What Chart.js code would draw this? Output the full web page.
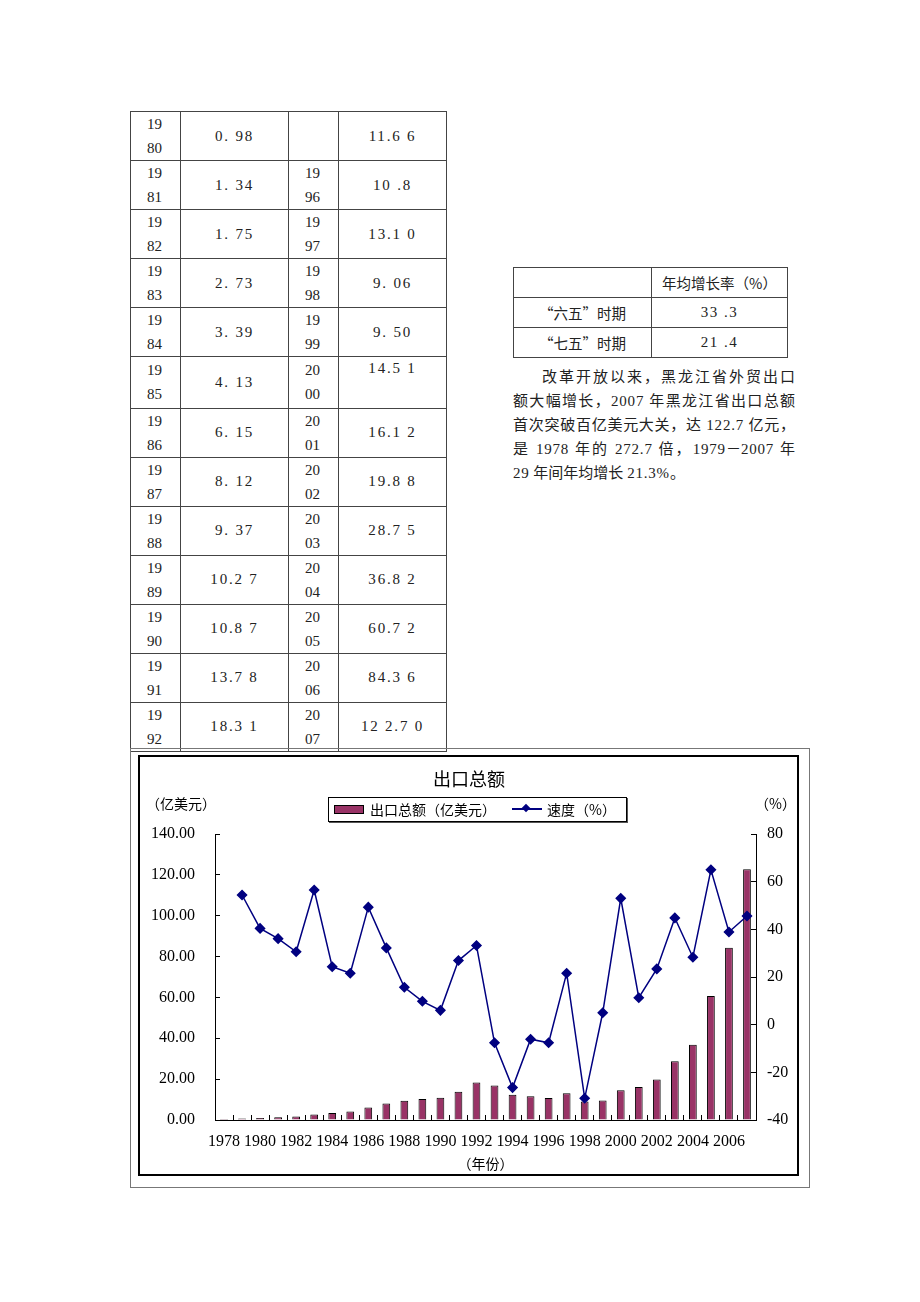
<!DOCTYPE html>
<html>
<head>
<meta charset="utf-8">
<script src="https://cdn.jsdelivr.net/npm/chart.js@4"></script>
<style>
  body { margin: 0; background: #fff; }
  #page { position: relative; width: 920px; height: 1302px; font-family: "Liberation Serif", "Noto Sans CJK SC", serif; color: #222; }
  .abs { position: absolute; }
  table.data { position: absolute; left: 130px; top: 111px; border-collapse: collapse; table-layout: fixed; font-size: 15px; }
  table.data td { border: 1px solid #444; height: 47.9px; padding: 0; vertical-align: middle; }
  table.data td.yr { padding-left: 16px; line-height: 24px; }
  table.data td.val { text-align: center; letter-spacing: 1.8px; }
  table.data td.top { vertical-align: top; padding-top: 3px; }
  table.rate { position: absolute; left: 513px; top: 267px; border-collapse: collapse; table-layout: fixed; font-size: 15px; }
  table.rate td { border: 1px solid #444; height: 29px; padding: 0; text-align: center; }
  table.rate td.q { font-family: "Noto Sans CJK SC", sans-serif; font-size: 14.5px; }
  table.rate td.n { letter-spacing: 1.5px; }
  #para { left: 513px; top: 365px; width: 282px; font-size: 15px; line-height: 24px; }
  #para div { text-align: justify; text-align-last: justify; white-space: nowrap; }
  #para div.last { text-align-last: left; }
  #para span.d { letter-spacing: 0.8px; }
  #outer { left: 130px; top: 748px; width: 678px; height: 438px; border: 1px solid #777; }
  #inner { left: 138px; top: 755px; width: 657px; height: 417px; border: 2px solid #000; }
  #chartBox { left: 140px; top: 757px; width: 658px; height: 418px; }
  .cn { font-family: "Noto Sans CJK SC", sans-serif; color: #000; }
  #legend { left: 328px; top: 797px; width: 297px; height: 23px; border: 1px solid #000; box-shadow: 1px 1px 0 #555; background: #fff; }
</style>
</head>
<body>
<div id="page">
  <table class="data">
    <colgroup><col style="width:50px"><col style="width:108px"><col style="width:50px"><col style="width:108px"></colgroup>
    <tr><td class="yr">19<br>80</td><td class="val">0. 98</td><td></td><td class="val">11.6 6</td></tr>
    <tr><td class="yr">19<br>81</td><td class="val">1. 34</td><td class="yr">19<br>96</td><td class="val">10 .8</td></tr>
    <tr><td class="yr">19<br>82</td><td class="val">1. 75</td><td class="yr">19<br>97</td><td class="val">13.1 0</td></tr>
    <tr><td class="yr">19<br>83</td><td class="val">2. 73</td><td class="yr">19<br>98</td><td class="val">9. 06</td></tr>
    <tr><td class="yr">19<br>84</td><td class="val">3. 39</td><td class="yr">19<br>99</td><td class="val">9. 50</td></tr>
    <tr><td class="yr">19<br>85</td><td class="val">4. 13</td><td class="yr">20<br>00</td><td class="val top">14.5 1</td></tr>
    <tr><td class="yr">19<br>86</td><td class="val">6. 15</td><td class="yr">20<br>01</td><td class="val">16.1 2</td></tr>
    <tr><td class="yr">19<br>87</td><td class="val">8. 12</td><td class="yr">20<br>02</td><td class="val">19.8 8</td></tr>
    <tr><td class="yr">19<br>88</td><td class="val">9. 37</td><td class="yr">20<br>03</td><td class="val">28.7 5</td></tr>
    <tr><td class="yr">19<br>89</td><td class="val">10.2 7</td><td class="yr">20<br>04</td><td class="val">36.8 2</td></tr>
    <tr><td class="yr">19<br>90</td><td class="val">10.8 7</td><td class="yr">20<br>05</td><td class="val">60.7 2</td></tr>
    <tr><td class="yr">19<br>91</td><td class="val">13.7 8</td><td class="yr">20<br>06</td><td class="val">84.3 6</td></tr>
    <tr><td class="yr">19<br>92</td><td class="val">18.3 1</td><td class="yr">20<br>07</td><td class="val">12 2.7 0</td></tr>
  </table>

  <table class="rate">
    <colgroup><col style="width:138px"><col style="width:136px"></colgroup>
    <tr><td></td><td class="q">年均增长率（%）</td></tr>
    <tr><td class="q">“六五”时期</td><td class="n">33 .3</td></tr>
    <tr><td class="q">“七五”时期</td><td class="n">21 .4</td></tr>
  </table>

  <div id="para" class="abs">
    <div style="padding-left:29px">改革开放以来，黑龙江省外贸出口</div>
    <div>额大幅增长，<span class="d">2007</span> 年黑龙江省出口总额</div>
    <div>首次突破百亿美元大关，达 <span class="d">122.7</span> 亿元，</div>
    <div>是 <span class="d">1978</span> 年的 <span class="d">272.7</span> 倍，<span class="d">1979</span>－<span class="d">2007</span> 年</div>
    <div class="last"><span class="d">29</span> 年间年均增长 <span class="d">21.3%</span>。</div>
  </div>

  <div id="outer" class="abs"></div>
  <div id="inner" class="abs"></div>
  <div id="chartBox" class="abs"><canvas id="exportChart"></canvas></div>

  <div class="abs cn" style="left:369px;top:766px;width:200px;text-align:center;font-size:18px;line-height:24px">出口总额</div>
  <div class="abs cn" style="left:146px;top:794px;font-size:14px;line-height:18px">（亿美元）</div>
  <div class="abs cn" style="left:755px;top:794px;font-size:14px;line-height:18px">（%）</div>
  <div id="legend" class="abs cn" style="font-size:14px">
    <div class="abs" style="left:5px;top:7px;width:28px;height:7px;background:#993366;border:1px solid #000"></div>
    <div class="abs" style="left:41px;top:2px;line-height:18px">出口总额（亿美元）</div>
    <div class="abs" style="left:183px;top:10px;width:30px;height:2px;background:#000080"></div>
    <div class="abs" style="left:194px;top:7px;width:6px;height:6px;background:#000080;transform:rotate(45deg)"></div>
    <div class="abs" style="left:218px;top:2px;line-height:18px">速度（%）</div>
  </div>
</div>

<script>
const years = ["1978", "1979", "1980", "1981", "1982", "1983", "1984", "1985", "1986", "1987",
	"1988", "1989", "1990", "1991", "1992", "1993", "1994", "1995", "1996", "1997",
	"1998", "1999", "2000", "2001", "2002", "2003", "2004", "2005", "2006", "2007"];

// 出口总额（亿美元）
const exportValues = [0.45, 0.69, 0.98, 1.34, 1.75, 2.73, 3.39, 4.13, 6.15, 8.12,
	9.37, 10.27, 10.87, 13.78, 18.31, 16.9, 12.4, 11.66, 10.8, 13.10,
	9.06, 9.50, 14.51, 16.12, 19.88, 28.75, 36.82, 60.72, 84.36, 122.70];

// 速度（%）
const growthRates = [null, 54.4, 40.4, 36.1, 30.6, 56.5, 24.3, 21.6, 49.3, 32.2,
	15.7, 9.8, 6.0, 26.9, 33.2, -7.6, -26.4, -6.1, -7.6, 21.6,
	-30.9, 5.0, 53.0, 11.3, 23.4, 44.8, 28.3, 65.0, 38.9, 45.6];

const leftTicks = [0, 140, 20];
const rightTicks = [-40, 80, 20];

const tickFont = { family: "Liberation Serif", size: 16 };

const exportCanvas = document.getElementById("exportChart");

new Chart(exportCanvas, {
	type: "bar",
	data: {
		labels: years,
		datasets: [
			{
				type: "line",
				label: "速度（%）",
				data: growthRates,
				yAxisID: "y1",
				borderColor: "#000080",
				borderWidth: 1.5,
				pointStyle: "rectRot",
				pointRadius: 4.5,
				pointBackgroundColor: "#000080",
				pointBorderColor: "#000080",
				tension: 0,
				order: 0,
			},
			{
				label: "出口总额（亿美元）",
				data: exportValues,
				yAxisID: "y",
				backgroundColor: "#993366",
				borderColor: "#000",
				borderWidth: 1,
				categoryPercentage: 1,
				barPercentage: 0.43,
				order: 1,
			},
		],
	},
	options: {
		responsive: true,
		maintainAspectRatio: false,
		animation: false,
		layout: {
			padding: { top: 77, left: 0, right: 0, bottom: 0 },
		},
		plugins: {
			legend: { display: false },
			tooltip: { enabled: false },
		},
		scales: {
			x: {
				grid: { drawOnChartArea: false, tickLength: -5, color: "#000" },
				border: { color: "#000" },
				ticks: {
					autoSkip: false,
					maxRotation: 0,
					padding: 17,
					color: "#000",
					font: tickFont,
					callback: (v, i) => (i % 2 === 0 ? years[i] : ""),
				},
				title: {
					display: true,
					text: "（年份）",
					color: "#000",
					font: { family: "Noto Sans CJK SC", size: 14 },
					padding: { top: 0, bottom: 3 },
				},
				afterFit: (s) => { s.height = 55; },
			},
			y: {
				position: "left",
				min: leftTicks[0],
				max: leftTicks[1],
				grid: { drawOnChartArea: false, tickLength: -5, color: "#000" },
				border: { color: "#000" },
				ticks: {
					stepSize: leftTicks[2],
					padding: 25,
					color: "#000",
					font: tickFont,
					callback: (v) => v.toFixed(2),
				},
				afterFit: (s) => { s.width = 75; },
			},
			y1: {
				position: "right",
				min: rightTicks[0],
				max: rightTicks[1],
				grid: { drawOnChartArea: false, tickLength: -5, color: "#000" },
				border: { color: "#000" },
				ticks: {
					stepSize: rightTicks[2],
					padding: 16,
					color: "#000",
					font: tickFont,
				},
				afterFit: (s) => { s.width = 42; },
			},
		},
	},
});
</script>
</body>
</html>
